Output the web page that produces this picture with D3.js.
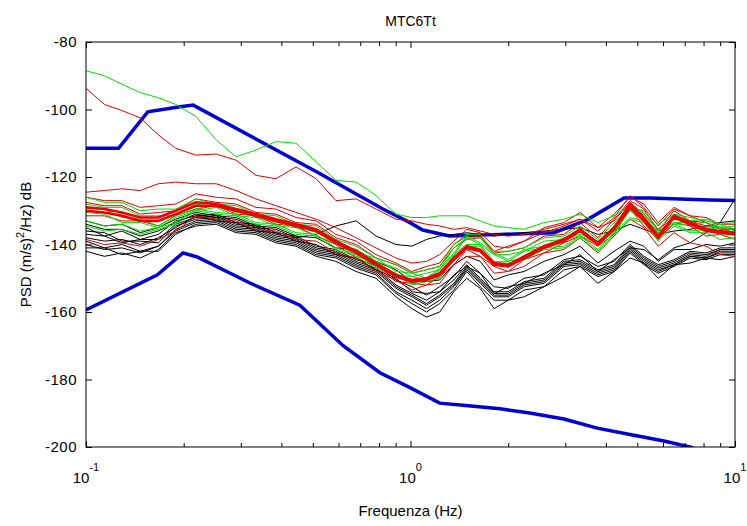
<!DOCTYPE html>
<html>
<head>
<meta charset="utf-8">
<script src="https://cdn.jsdelivr.net/npm/d3@7"></script>
<style>
body{margin:0;background:#fff;}
svg{display:block;}
text{font-family:"Liberation Sans",Arial,sans-serif;fill:#000;}
</style>
</head>
<body>
<svg id="PsdChart"></svg>
<script>
// frequency grid (Hz) shared by all station curves
var freq = [0.100,0.114,0.129,0.147,0.167,0.189,0.218,0.252,0.290,0.334,0.385,0.444,0.512,0.589,0.680,0.783,0.902,1.01,1.12,1.23,1.36,1.49,1.64,1.81,2.00,2.24,2.58,2.97,3.33,3.78,4.24,4.75,5.24,5.80,6.49,7.27,8.14,9.00,10.0];

var blackSeries = [
[-133,-134.5,-134,-136.5,-135,-132.5,-130.5,-131.5,-132,-134.5,-135,-137.5,-138,-141,-141.5,-145,-147.5,-151,-151,-150.5,-146,-143.5,-145,-150.5,-149,-148,-145,-143,-140.5,-145.5,-142,-139,-140.5,-145,-141.5,-141.5,-140,-140.5,-139.5],
[-135,-137.5,-136,-138.5,-137,-133,-131.5,-131,-133.5,-134,-136.5,-137.5,-140.5,-141.5,-144.5,-146,-150.5,-152.5,-155,-152.5,-149.5,-145,-148.5,-152.5,-153,-150,-149,-144.5,-143.5,-146.5,-145,-140,-143.5,-146,-144.5,-142,-142.5,-141,-141],
[-137,-137.5,-139.5,-138.5,-138.5,-134,-132,-131.5,-134,-134.5,-137,-138,-141,-142,-145,-147,-152,-154.5,-156.5,-154,-150.5,-146,-150,-154,-154,-151,-150,-145,-144.5,-147.5,-146,-140.5,-144,-146.5,-145,-142.5,-143,-141.5,-141.5],
[-139,-141,-140,-142,-140.5,-135.5,-133,-132.5,-135,-135.5,-138,-139,-142,-143,-146,-148,-153,-155.5,-158,-155.5,-152,-147,-151,-155,-155,-152,-151,-146,-145.5,-148.5,-147,-141.5,-145,-147.5,-146,-143.5,-144,-142,-142],
[-141,-141,-143,-142,-142,-137,-134,-133.5,-136,-136.5,-139,-140,-143,-144,-147,-149,-154.5,-157.5,-160,-157.5,-153.5,-148,-152.5,-156.5,-156.5,-153.5,-152.5,-147.5,-146.5,-149.5,-148,-142.5,-146,-148.5,-146.5,-144,-144.5,-143,-143],
[-142,-143.5,-142.5,-144,-141.5,-136.5,-134.5,-134,-136.5,-137,-139.5,-140.5,-143.5,-145,-148,-150,-155.5,-159,-161.5,-160,-154,-150,-153,-159,-156.5,-155.5,-152.5,-149.5,-146.5,-151.5,-148,-144,-145.5,-150,-146,-145.5,-144,-144.5,-143.5],
[-136,-136.5,-139,-139,-139.5,-134.5,-132.5,-132,-134.5,-135,-137.5,-138.5,-141.5,-142.5,-145.5,-147.5,-152.5,-155,-157.5,-155,-151.5,-146.5,-150.5,-154.5,-154.5,-151.5,-150.5,-145.5,-145,-148,-146.5,-141,-144.5,-147,-145.5,-143,-143.5,-141.5,-141.5],
[-140,-141.5,-141,-142.5,-140.5,-136,-133.5,-133,-135.5,-136,-138.5,-139.5,-142.5,-143.5,-146.5,-148.5,-154,-156.5,-159,-156.5,-152.5,-147.5,-151.5,-155.5,-155.5,-152.5,-151.5,-146.5,-146,-149,-147.5,-142,-145.5,-148,-146,-143.5,-144,-142.5,-142.5],
[-134,-135.5,-135.5,-137.5,-136,-133.5,-131,-132,-132.5,-135,-135.5,-138,-137,-134.5,-133,-137.5,-140,-140.5,-138.5,-137.5,-137,-136.5,-137,-137.5,-137,-136.5,-136,-135.5,-135,-137,-136,-134,-135.5,-137,-136,-135.5,-134.5,-133.5,-133],
[-138,-139,-138.5,-140,-138,-135,-131.5,-133,-133.5,-136,-136.5,-139,-140,-143,-144,-147.5,-150,-154,-154.5,-154,-149,-146.5,-148.5,-154.5,-152.5,-151.5,-148.5,-146,-143,-148,-144.5,-141,-141.5,-144.5,-141,-139.5,-136.5,-133.5,-126.5]
];

var greenSeries = [
[-126,-127.5,-127.5,-130,-129.5,-129.5,-126.5,-128,-128.5,-131,-131.5,-134,-134.5,-138.5,-140.5,-144,-146,-148.5,-147.5,-146.5,-140,-137,-137,-142,-142,-141,-138,-137.5,-134.5,-138.5,-133.5,-129,-130,-135.5,-131,-133,-132.5,-134,-133.5],
[-128,-129,-129,-131.5,-131.5,-131.5,-128,-129,-129.5,-132,-132.5,-135,-135.5,-139.5,-141.5,-145,-147,-149.5,-148.5,-147.5,-141,-138,-138,-143,-143,-142,-139,-138.5,-135.5,-139.5,-134.5,-130,-131,-136.5,-132,-134,-133.5,-135,-134.5],
[-130.5,-131,-133.5,-133.5,-135,-132,-130,-129,-131.5,-132,-134.5,-135,-137.5,-139.5,-143.5,-145,-149,-149.5,-150.5,-147.5,-143,-138,-140,-143,-145,-142,-141,-138.5,-137.5,-139.5,-136.5,-130,-133,-136.5,-134,-134,-135.5,-135,-136.5],
[-133,-134.5,-134,-136,-135,-133.5,-129.5,-130.5,-131,-133.5,-134,-136.5,-137,-141,-143,-146.5,-148.5,-151.5,-150.5,-149.5,-143,-140,-140,-145,-145,-144,-141,-140.5,-137.5,-141.5,-136.5,-132,-133,-138.5,-134,-136,-135.5,-137,-136.5],
[-129,-129.5,-132,-132.5,-134.5,-131.5,-129.5,-128,-130.5,-131,-133.5,-134,-136.5,-138.5,-142.5,-144,-148,-148.5,-150,-147,-142.5,-137.5,-139.5,-142.5,-144.5,-141.5,-140.5,-138,-137,-139,-136,-129.5,-132.5,-136,-133.5,-133.5,-135,-134.5,-136],
[-134.5,-136,-135.5,-137,-135.5,-134,-130,-131,-131.5,-134,-134.5,-137,-137.5,-141.5,-143.5,-147,-149,-152,-151,-150,-143.5,-140.5,-140.5,-145.5,-145.5,-144.5,-141.5,-141,-138,-142,-137,-132.5,-133.5,-139,-134.5,-136.5,-136.5,-138.5,-138],
[-88.5,-90,-92.5,-95,-96.5,-98.5,-102,-109,-114,-112,-109.5,-110,-115.5,-121,-121.5,-125.5,-131,-132,-132,-131.5,-131.5,-131.5,-133,-134.5,-135,-135.5,-133.5,-132.5,-131,-133.5,-131.5,-128.5,-130.5,-134,-131,-132,-133,-134,-135.5]
];

var redSeries = [
[-124.5,-124,-123.5,-124,-122,-121.5,-122,-122,-124,-126.5,-128.5,-130.5,-132.5,-135,-138,-141,-144,-145.5,-145,-143,-139,-135.5,-136.5,-140.5,-141,-139,-136.5,-134.5,-132.5,-136,-132,-125.5,-129,-134.5,-129.5,-131.5,-133.5,-135,-137],
[-126,-127,-127,-129,-128.5,-128,-125,-126,-126.5,-129,-129.5,-132,-133,-137,-139,-143,-145.5,-148,-146.5,-145.5,-140,-137.5,-137.5,-142.5,-142,-141,-137.5,-137,-133.5,-138,-132.5,-127,-129.5,-136,-130,-133,-133.5,-135.5,-135.5],
[-129,-129.5,-130.5,-132,-132,-130,-127.5,-128,-129.5,-131,-132.5,-134,-135.5,-139,-142,-145.5,-149,-150.5,-150,-148.5,-144,-140.5,-141.5,-145.5,-146,-143.5,-140.5,-138.5,-135.5,-139.5,-135,-128,-132,-137.5,-131.5,-133.5,-135.5,-136,-136.5],
[-130,-130.5,-131.5,-133,-133,-131,-128.5,-128.5,-130,-131.5,-133,-134.5,-136,-139.5,-142.5,-146,-149.5,-151,-150.5,-149,-144.5,-141,-142,-146,-146.5,-144,-141,-139,-136,-140,-135.5,-129,-133,-138,-132,-134,-136,-136.5,-137],
[-131.5,-131.5,-133,-133,-134.5,-131.5,-129.5,-128.5,-131,-131.5,-134,-134.5,-137.5,-140,-144,-146.5,-151,-151.5,-152,-149.5,-146,-141.5,-143.5,-146.5,-148,-144.5,-142.5,-139.5,-137.5,-140.5,-137,-129.5,-134.5,-138.5,-133.5,-134.5,-137.5,-137,-138.5],
[-138.5,-140,-139.5,-140.5,-138.5,-136,-131.5,-132.5,-133,-135.5,-136,-138.5,-139,-142.5,-144,-148,-150.5,-153.5,-152,-151.5,-146,-143.5,-143.5,-148.5,-148,-146.5,-142.5,-141.5,-138,-142.5,-137.5,-132.5,-135,-140.5,-136.5,-139.5,-140.5,-143,-143.5],
[-127.5,-128.5,-128.5,-131,-130.5,-130,-126.5,-127.5,-128,-130.5,-131,-133.5,-134,-138,-140,-144,-146,-148.5,-147.5,-146.5,-141,-138.5,-138,-142,-140.5,-139,-135,-133.5,-130.5,-135,-131,-126,-128,-133.5,-129,-131.5,-132,-134,-134],
[-93.7,-98.5,-100.3,-102.5,-107.5,-111.5,-113.5,-113.2,-115,-119.5,-120.5,-117,-120.5,-127,-126.5,-129.5,-132.5,-133,-134,-134.5,-135.5,-135,-136,-137,-137.5,-137,-135.5,-134,-132.5,-135,-133,-127.5,-131,-135.5,-132,-133,-134.5,-135,-135.5]
];
// the thick red band is drawn from these members
var redThick = [2,3];

// Peterson high / low noise models
var nhnmFreq = [0.1,0.126,0.155,0.195,0.214,0.515,0.822,1.0,1.09,1.32,1.89,2.77,3.50,4.55,5.47,8.37,10];
var nhnmDb = [-111.5,-111.5,-100.7,-99.2,-98.7,-118.5,-129.5,-133.6,-135.7,-137.5,-137,-136.5,-132.7,-126.2,-126.2,-126.8,-127];
var nlnmFreq = [0.1,0.166,0.199,0.22,0.32,0.456,0.62,0.805,1.0,1.23,1.45,1.89,2.33,2.97,3.76,4.75,6.04,7.26,8.0];
var nlnmDb = [-159.4,-149,-142.5,-143.7,-151.4,-158,-170,-178,-182.5,-187,-187.6,-188.7,-189.9,-191.7,-194.4,-196.3,-198.2,-200,-201.5];

var yTicks = [-200,-180,-160,-140,-120,-100,-80];
var xMajor = [0.1,1,10];
var xExponents = ["-1","0","1"];
var xMinor = [0.2,0.3,0.4,0.5,0.6,0.7,0.8,0.9,2,3,4,5,6,7,8,9];

var makeTranslateString = function(x,y)
{
    return "translate("+x+","+y+")";
}

var screen = {width:747, height:526}
var margins = {left:86, right:12, top:42, bottom:79}
var graph =
    {
        width:screen.width-margins.left-margins.right,
        height:screen.height-margins.top-margins.bottom
    }

var svg = d3.select("#PsdChart")
    .attr("width",screen.width)
    .attr("height",screen.height)

var xScale = d3.scaleLog()
    .domain([0.1,10])
    .range([0,graph.width])

var yScale = d3.scaleLinear()
    .domain([-200,-80])
    .range([graph.height,0])

var target = svg.append("g")
    .attr("transform",makeTranslateString(margins.left,margins.top))

target.append("clipPath")
    .attr("id","plotClip")
    .append("rect")
    .attr("width",graph.width)
    .attr("height",graph.height)

var plot = target.append("g").attr("clip-path","url(#plotClip)")

var lineGen = d3.line()
    .x(function(d){return xScale(d[0]);})
    .y(function(d){return yScale(d[1]);})

var toPoints = function(vals)
{
    return vals.map(function(v,i){return [freq[i],v];});
}

// noise models first, station curves go over them
plot.selectAll("path.model")
    .data([d3.zip(nhnmFreq,nhnmDb), d3.zip(nlnmFreq,nlnmDb)])
    .enter()
    .append("path")
    .attr("class","model")
    .attr("d",lineGen)
    .attr("fill","none")
    .attr("stroke","#0000d0")
    .attr("stroke-width",3.5)

var drawGroup = function(series,name,color,width)
{
    plot.append("g").selectAll("path")
        .data(series)
        .enter()
        .append("path")
        .attr("class",name)
        .attr("d",function(vals){return lineGen(toPoints(vals));})
        .attr("fill","none")
        .attr("stroke",color)
        .attr("stroke-width",width)
}

var thinRed = redSeries.filter(function(s,i){return redThick.indexOf(i)<0;});
var thickRed = redSeries.filter(function(s,i){return redThick.indexOf(i)>=0;});

drawGroup(blackSeries,"black","#000000",1);
drawGroup(thinRed,"red","#e00000",1);
drawGroup(greenSeries,"green","#00dd00",1);
drawGroup(thickRed,"redthick","#ee0000",2.6);

// frame
target.append("rect")
    .attr("width",graph.width)
    .attr("height",graph.height)
    .attr("fill","none")
    .attr("stroke","#000")
    .attr("stroke-width",1)

var tickAxis = function(axis,x,y)
{
    var g = target.append("g")
        .attr("transform",makeTranslateString(x,y))
        .call(axis)
    g.select(".domain").remove();
    return g;
}

tickAxis(d3.axisBottom(xScale).tickValues(xMinor).tickSize(-4).tickFormat(""),0,graph.height);
tickAxis(d3.axisBottom(xScale).tickValues(xMajor).tickSize(-6).tickFormat(""),0,graph.height);
tickAxis(d3.axisTop(xScale).tickValues(xMinor).tickSize(-4).tickFormat(""),0,0);
tickAxis(d3.axisTop(xScale).tickValues(xMajor).tickSize(-6).tickFormat(""),0,0);
tickAxis(d3.axisRight(yScale).tickValues(yTicks).tickSize(-6).tickFormat(""),graph.width,0);

var yAxisG = tickAxis(d3.axisLeft(yScale).tickValues(yTicks).tickSize(-6).tickPadding(9)
    .tickFormat(function(d){return String(d);}),0,0);
yAxisG.selectAll("text")
    .attr("font-size",15)
    .attr("font-family","Liberation Sans, Arial, sans-serif")
    .attr("letter-spacing","0.5px")
    .attr("fill","#000")

// x tick labels as powers of ten
var xLab = target.append("g").selectAll("text")
    .data(xMajor)
    .enter()
    .append("text")
    .attr("x",function(d){return xScale(d);})
    .attr("y",graph.height+36)
    .attr("text-anchor","middle")
    .attr("font-size",15)
xLab.append("tspan").text("10")
xLab.append("tspan")
    .attr("dy",-12)
    .attr("font-size",11)
    .text(function(d,i){return xExponents[i];})

svg.append("text")
    .attr("x",margins.left+xScale(1))
    .attr("y",26)
    .attr("text-anchor","middle")
    .attr("font-size",14)
    .text("MTC6Tt")

svg.append("text")
    .attr("x",margins.left+xScale(1))
    .attr("y",516)
    .attr("text-anchor","middle")
    .attr("font-size",15)
    .text("Frequenza (Hz)")

var yLabel = svg.append("g")
    .attr("transform",makeTranslateString(31,margins.top+graph.height/2))
    .append("text")
    .attr("transform","rotate(270)")
    .attr("text-anchor","middle")
    .attr("font-size",15)
yLabel.append("tspan").text("PSD (m/s)")
yLabel.append("tspan").attr("dy",-7).attr("font-size",11).text("2")
yLabel.append("tspan").attr("dy",7).text("/Hz) dB")
</script>
</body>
</html>
